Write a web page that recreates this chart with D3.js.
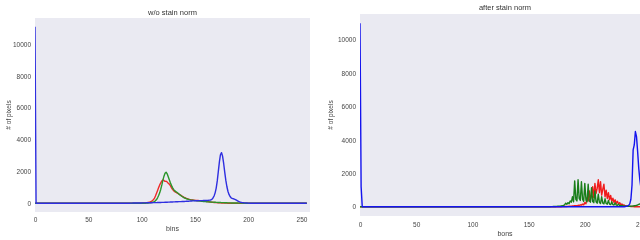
<!DOCTYPE html>
<html>
<head>
<meta charset="utf-8">
<script src="https://cdn.jsdelivr.net/npm/d3@7"></script>
<style>
html,body{margin:0;padding:0;background:#fff;}
svg{display:block;opacity:0.999;will-change:transform;}
text{font-family:"Liberation Sans",Arial,sans-serif;fill:#333;}
</style>
</head>
<body>
<svg id="chart" width="640" height="240"></svg>
<script>
// ---------- DATA ----------
const nBins = 256;
const xTicks = [0, 50, 100, 150, 200, 250];
const yTicks = [0, 2000, 4000, 6000, 8000, 10000];
const titles = ["w/o stain norm", "after stain norm"];
const xLabels = ["bins", "bons"];
const yLabel = "# of pixels";

// left panel (w/o stain norm)
const leftBlueSpike = [11100];            // bins 0..
const leftBlueStart = 90;
const leftBlue = [5,6,7,8,9,10,11,12,13,14,15,17,18,20,21,23,24,26,27,29,30,32,34,36,38,40,42,44,46,48,50,53,56,59,62,65,68,71,74,77,80,83,86,89,92,95,98,101,104,107,110,114,118,122,126,130,134,138,142,146,150,152,154,156,158,160,162,164,166,168,170,173,176,180,190,200,250,330,450,650,950,1400,2000,2600,3050,3180,2950,2500,1950,1450,1050,750,550,420,340,300,280,260,230,190,150,110,80,60,45,35,25,18,12,8,5];
const leftRedStart = 100;
const leftRed = [5,8,10,15,20,30,40,60,80,110,150,220,300,450,620,800,980,1150,1280,1400,1460,1430,1370,1380,1330,1260,1200,1100,980,870,790,730,690,650,610,570,530,490,440,400,360,330,300,280,260,240,225,210,200,190,180,175,170,165,160,158,150,145,140,130,120,110,100,90,80,70,60,50,45,40,35,30,25,20,18,15,12,10,8,6,5];
const leftGreenStart = 105;
const leftGreen = [10,15,20,30,40,55,75,100,150,230,340,480,650,880,1150,1450,1700,1880,1950,1850,1660,1470,1280,1120,980,870,790,730,690,640,580,520,470,420,380,340,310,280,260,240,220,205,195,185,175,165,158,150,142,135,128,120,113,106,100,95,90,85,80,76,72,68,64,60,56,52,48,45,42,40,37,35,32,30,27,25,22,20,18,16,14,12,10,9,8,7,6,5,4,3,2];

// right panel (after stain norm)
const rightBlueSpike = [10980, 1200];     // bins 0..
const rightBlueStart = 236;
const rightBlue = [20,30,50,90,180,450,1300,3400,3700,4500,4200,3300,2300,1600,1100,750,500,330,220,150];
const rightRedStart = 180;
const rightRed = [10,12,15,18,20,25,30,35,40,45,50,60,70,60,90,80,120,100,160,120,250,180,550,350,950,450,700,1200,550,1400,800,1100,1620,850,1500,700,1050,1350,600,1000,500,850,420,680,330,520,260,420,200,330,170,250,120,170,90,110,60,50,40,30,25,20,15,10,8,5];
const rightGreenStart = 170;
const rightGreen = [10,12,15,18,20,25,30,35,40,50,60,80,120,220,150,250,180,350,280,600,300,1550,450,350,1620,500,380,1500,450,320,1400,420,300,1350,350,280,1150,320,250,950,300,220,750,260,200,600,220,180,480,200,160,380,160,130,300,130,110,240,100,90,160,80,70,90,50,45,40,35,30,30,30,35,40,50,60,70,90,110,140,170,200,230,260,280,300,300];

// ---------- BUILD ----------
function hist(parts) {
  const a = new Array(nBins).fill(0);
  parts.forEach(([start, vals]) => vals.forEach((v, i) => { if (start + i < nBins) a[start + i] = v; }));
  return a;
}
const panels = [
  {
    title: titles[0], xlabel: xLabels[0],
    box: {x0: 35, x1: 310, y0: 18, y1: 212},
    titleY: 15, tickY: 222, xlabY: 231, ylabX: 11,
    series: [
      {color: "#ee2a2a", data: hist([[leftRedStart, leftRed]])},
      {color: "#2a962a", data: hist([[leftGreenStart, leftGreen]])},
      {color: "#2e2ee0", data: hist([[0, leftBlueSpike], [leftBlueStart, leftBlue]])}
    ]
  },
  {
    title: titles[1], xlabel: xLabels[1],
    box: {x0: 360, x1: 650, y0: 14, y1: 216},
    titleY: 9.5, tickY: 226.5, xlabY: 236, ylabX: 333,
    series: [
      {color: "#f01c1c", data: hist([[rightRedStart, rightRed]])},
      {color: "#1a7e1a", data: hist([[rightGreenStart, rightGreen]])},
      {color: "#1414ee", data: hist([[0, rightBlueSpike], [rightBlueStart, rightBlue]])}
    ]
  }
];

const svg = d3.select("#chart");
panels.forEach((p, pi) => {
  const b = p.box;
  const ymax = d3.max(p.series, s => d3.max(s.data));
  const x = d3.scaleLinear().domain([0, 258]).range([b.x0, b.x1]);
  const y = d3.scaleLinear().domain([-0.05 * ymax, 1.05 * ymax]).range([b.y1, b.y0]);

  svg.append("clipPath").attr("id", "clip" + pi)
    .append("rect").attr("x", b.x0).attr("y", b.y0).attr("width", b.x1 - b.x0).attr("height", b.y1 - b.y0);

  svg.append("rect").attr("x", b.x0).attr("y", b.y0)
    .attr("width", b.x1 - b.x0).attr("height", b.y1 - b.y0).attr("fill", "#eaeaf2");

  const line = d3.line().x((d, i) => x(i)).y(d => y(d));
  const g = svg.append("g").attr("clip-path", `url(#clip${pi})`);
  p.series.forEach(s => {
    g.append("path").attr("d", line(s.data)).attr("fill", "none")
      .attr("stroke", s.color).attr("stroke-width", 1.4).attr("stroke-linejoin", "round");
  });

  // x axis tick labels
  const xa = d3.axisBottom(x).tickValues(xTicks).tickSize(0).tickPadding(0);
  const gx = svg.append("g").attr("transform", `translate(0,${p.tickY - 6})`).call(xa);
  gx.select(".domain").remove();
  gx.selectAll("text").attr("dy", "0").attr("y", 6).style("font-size", "6.5px")
    .style("fill", "#444").style("font-family", '"Liberation Sans",Arial,sans-serif');

  // y axis tick labels
  const ya = d3.axisLeft(y).tickValues(yTicks).tickSize(0).tickPadding(4).tickFormat(d3.format("d"));
  const gy = svg.append("g").attr("transform", `translate(${b.x0},0)`).call(ya);
  gy.select(".domain").remove();
  gy.selectAll("text").style("font-size", "6.5px").style("fill", "#444")
    .style("font-family", '"Liberation Sans",Arial,sans-serif');

  // titles & labels
  svg.append("text").attr("x", (b.x0 + b.x1) / 2).attr("y", p.titleY)
    .attr("text-anchor", "middle").style("font-size", "7.5px").style("fill", "#333").text(p.title);
  svg.append("text").attr("x", (b.x0 + b.x1) / 2).attr("y", p.xlabY)
    .attr("text-anchor", "middle").style("font-size", "7px").style("fill", "#444").text(p.xlabel);
  svg.append("text").attr("transform", `translate(${p.ylabX},${(b.y0 + b.y1) / 2}) rotate(-90)`)
    .attr("text-anchor", "middle").style("font-size", "6.5px").style("fill", "#444").text(yLabel);
});
</script>
</body>
</html>
